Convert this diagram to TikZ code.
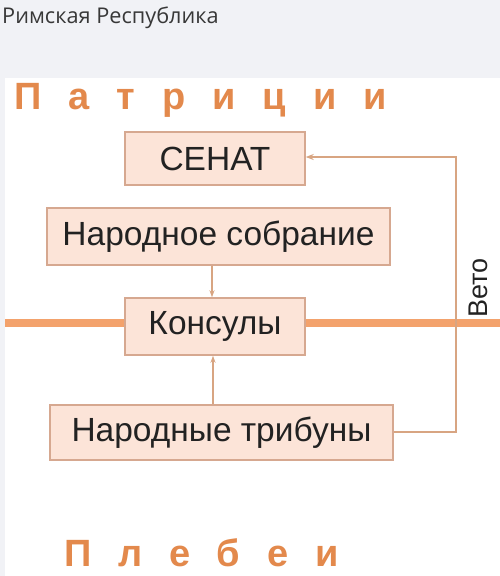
\documentclass[tikz,border=0pt]{standalone}
\usepackage{fontspec}
\setmainfont{Liberation Sans}
\newfontfamily\titlefont{Open Sans}
\usetikzlibrary{arrows.meta}
\definecolor{bggray}{HTML}{F1F2F6}
\definecolor{boxfill}{HTML}{FCE4D8}
\definecolor{boxline}{HTML}{D6A890}
\definecolor{vetoline}{HTML}{D8A582}
\definecolor{thickline}{HTML}{F3A26C}
\definecolor{classcol}{HTML}{E3894C}
\definecolor{txt}{HTML}{222222}
\tikzset{
  orgbox/.style={draw=boxline, line width=1.5pt, fill=boxfill, inner sep=0pt,
    text=txt, font=\fontsize{33.5}{36}\selectfont},
  vetoconn/.style={draw=vetoline, line width=2pt},
  smallarrow/.style={draw=vetoline, line width=1.6pt, -{Stealth[length=7pt,width=5pt]}},
  classlbl/.style={text=classcol, font=\bfseries\fontsize{38}{40}\selectfont\addfontfeature{LetterSpace=71}, anchor=west, inner sep=0pt}
}
\begin{document}
\begin{tikzpicture}[x=1pt,y=-1pt]
\useasboundingbox (0,0) rectangle (500,576);
\fill[bggray] (0,0) rectangle (500,576);
\fill[white] (5,78) rectangle (500,576);
\node[anchor=west, inner sep=0pt, text=txt!90, font=\titlefont\fontsize{21.7}{23}\selectfont] (title) at (2,18) {Римская Республика};
\node[classlbl] (patr) at (14,100) {Патриции};
\node[classlbl] (pleb) at (64,553) {Плебеи};
% thick line
\coordinate (tl) at (5,323);
\coordinate (tr) at (500,323);
\draw[thickline, line width=8pt] (tl) -- (tr);
% boxes
\node[orgbox, minimum width=180pt, minimum height=53pt] (sen) at (215,158.5) {СЕНАТ};
\node[orgbox, minimum width=343pt, minimum height=57pt] (asm) at (218.5,236.5) {Народное собрание};
\node[orgbox, minimum width=180pt, minimum height=57pt] (con) at (215,326.5) {Консулы};
\node[orgbox, minimum width=343pt, minimum height=55pt] (tri) at (221.5,432.5) {Народные трибуны};
% arrows
\draw[smallarrow] (asm.south -| 212,0) -- (con.north -| 212,0);
\draw[smallarrow] (tri.north -| 213,0) -- (con.south -| 213,0);
\coordinate (vb) at (456,432);
\coordinate (vt) at (456,157);
\draw[vetoconn, -{Stealth[length=8pt,width=6pt]}] (tri.east |- vb) -- (vb) -- (vt) -- (sen.east |- vt);
\node[rotate=90, text=txt, font=\fontsize{27}{29}\selectfont, inner sep=0pt] (veto) at (478,288) {Вето};
\end{tikzpicture}
\end{document}
